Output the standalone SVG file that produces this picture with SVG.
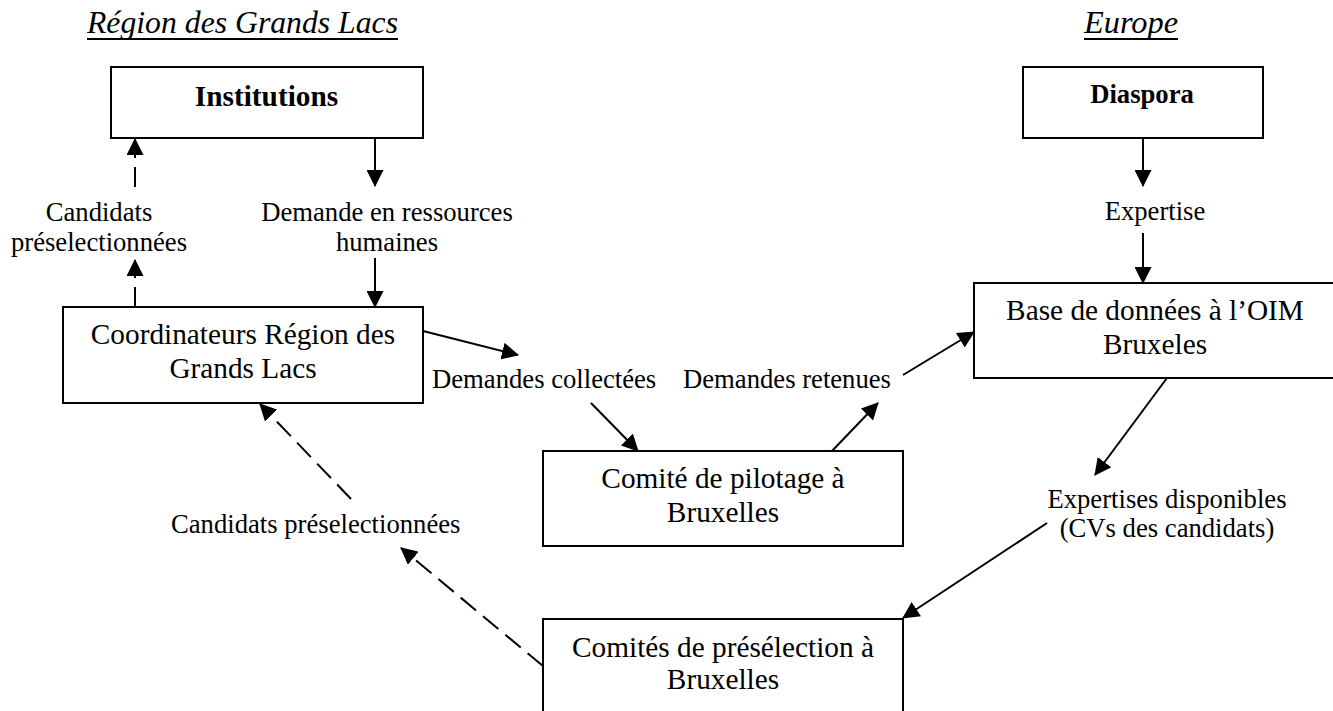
<svg xmlns="http://www.w3.org/2000/svg" width="1333" height="711" viewBox="0 0 1333 711">
<style>
text{font-family:"Liberation Serif","Times New Roman",serif;fill:#000}
.lbl{font-size:26.67px}
.box{font-size:29.3px}
.ttl{font-size:32px;font-style:italic}
.node rect{fill:#fff;stroke:#000;stroke-width:2}
.c line{stroke:#000;stroke-width:2;fill:none}
.c .d{stroke-dasharray:20 9}
</style>
<defs>
<marker id="ah" markerUnits="userSpaceOnUse" markerWidth="17" markerHeight="17" viewBox="0 0 17 17" refX="16" refY="8.5" orient="auto">
<path d="M0,0 L17,8.5 L0,17 z" fill="#000"/>
</marker>
</defs>
<rect width="1333" height="711" fill="#fff"/>
<g id="titles">
<text class="ttl" x="87" y="33" textLength="311" lengthAdjust="spacingAndGlyphs">Région des Grands Lacs</text>
<line x1="87" y1="39" x2="398" y2="39" stroke="#000" stroke-width="2"/>
<text class="ttl" x="1084" y="33" textLength="94" lengthAdjust="spacingAndGlyphs">Europe</text>
<line x1="1084" y1="39" x2="1178" y2="39" stroke="#000" stroke-width="2"/>
</g>
<g id="institutions" class="node">
<rect x="111" y="67" width="312" height="71"/>
<text class="box" x="266.5" y="106" text-anchor="middle" font-weight="bold">Institutions</text>
</g>
<g id="diaspora" class="node">
<rect x="1023" y="67" width="240" height="71"/>
<text class="lbl" x="1142" y="103" text-anchor="middle" font-weight="bold">Diaspora</text>
</g>
<g id="coordinateurs" class="node">
<rect x="63" y="307" width="360" height="96"/>
<text class="box" x="243" y="344" text-anchor="middle">Coordinateurs Région des</text>
<text class="box" x="243" y="378" text-anchor="middle">Grands Lacs</text>
</g>
<g id="base" class="node">
<rect x="974" y="283" width="370" height="95"/>
<text class="box" x="1155" y="320" text-anchor="middle">Base de données à l’OIM</text>
<text class="box" x="1155" y="354" text-anchor="middle">Bruxeles</text>
</g>
<g id="pilotage" class="node">
<rect x="543" y="451" width="360" height="95"/>
<text class="box" x="723" y="488" text-anchor="middle">Comité de pilotage à</text>
<text class="box" x="723" y="522" text-anchor="middle">Bruxelles</text>
</g>
<g id="preselection" class="node">
<rect x="543" y="619" width="360" height="110"/>
<text class="box" x="723" y="657" text-anchor="middle">Comités de présélection à</text>
<text class="box" x="723" y="689" text-anchor="middle">Bruxelles</text>
</g>
<g id="labels">
<text class="lbl" x="99" y="221" text-anchor="middle">Candidats</text>
<text class="lbl" x="99" y="251" text-anchor="middle">préselectionnées</text>
<text class="lbl" x="387" y="221" text-anchor="middle">Demande en ressources</text>
<text class="lbl" x="387" y="251" text-anchor="middle">humaines</text>
<text class="lbl" x="1155" y="220" text-anchor="middle">Expertise</text>
<text class="lbl" x="432" y="388">Demandes collectées</text>
<text class="lbl" x="683" y="388">Demandes retenues</text>
<text class="lbl" x="171" y="533">Candidats préselectionnées</text>
<text class="lbl" x="1167" y="508" text-anchor="middle">Expertises disponibles</text>
<text class="lbl" x="1167" y="537" text-anchor="middle">(CVs des candidats)</text>
</g>
<g id="connectors" class="c">
<line x1="375" y1="138" x2="375" y2="186" marker-end="url(#ah)"/>
<line x1="375" y1="258" x2="375" y2="307" marker-end="url(#ah)"/>
<line class="d" x1="135" y1="307" x2="135" y2="260" marker-end="url(#ah)"/>
<line class="d" x1="135" y1="187" x2="135" y2="139" marker-end="url(#ah)"/>
<line x1="423" y1="331" x2="518" y2="355" marker-end="url(#ah)"/>
<line x1="591" y1="403" x2="638" y2="451" marker-end="url(#ah)"/>
<line x1="832" y1="451" x2="878" y2="403" marker-end="url(#ah)"/>
<line x1="903" y1="375" x2="974" y2="332" marker-end="url(#ah)"/>
<line x1="1143" y1="138" x2="1143" y2="186" marker-end="url(#ah)"/>
<line x1="1143" y1="233" x2="1143" y2="283" marker-end="url(#ah)"/>
<line x1="1167" y1="378" x2="1095" y2="475" marker-end="url(#ah)"/>
<line x1="1047" y1="523" x2="903" y2="618" marker-end="url(#ah)"/>
<line class="d" x1="543" y1="666" x2="401" y2="548" marker-end="url(#ah)"/>
<line class="d" x1="351" y1="499" x2="260" y2="404" marker-end="url(#ah)"/>
</g>
</svg>
